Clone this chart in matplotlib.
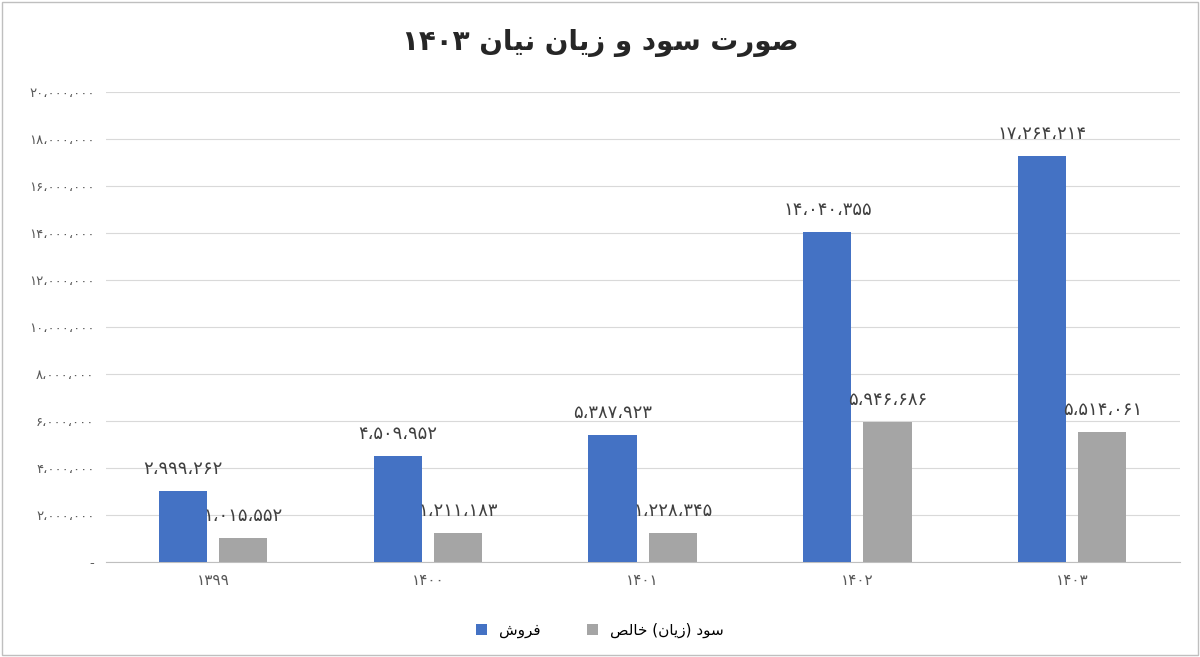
import matplotlib
matplotlib.use("Agg")
import matplotlib.pyplot as plt
import numpy as np

years = ["۱۳۹۹", "۱۴۰۰", "۱۴۰۱", "۱۴۰۲", "۱۴۰۳"]
sales = [2999262, 4509952, 5387923, 14040355, 17264214]
profit = [1015552, 1211183, 1228345, 5946686, 5514061]
title = "صورت سود و زیان نیان ۱۴۰۳"
legend_labels = ["فروش", "سود (زیان) خالص"]

FORMS = {
 'ا': (0xFE8D, 0xFE8E, None, None), 'د': (0xFEA9, 0xFEAA, None, None),
 'ر': (0xFEAD, 0xFEAE, None, None), 'ز': (0xFEAF, 0xFEB0, None, None),
 'و': (0xFEED, 0xFEEE, None, None),
 'ت': (0xFE95, 0xFE96, 0xFE97, 0xFE98), 'خ': (0xFEA5, 0xFEA6, 0xFEA7, 0xFEA8),
 'س': (0xFEB1, 0xFEB2, 0xFEB3, 0xFEB4), 'ش': (0xFEB5, 0xFEB6, 0xFEB7, 0xFEB8),
 'ص': (0xFEB9, 0xFEBA, 0xFEBB, 0xFEBC), 'ف': (0xFED1, 0xFED2, 0xFED3, 0xFED4),
 'ل': (0xFEDD, 0xFEDE, 0xFEDF, 0xFEE0), 'ن': (0xFEE5, 0xFEE6, 0xFEE7, 0xFEE8),
 'ی': (0xFBFC, 0xFBFD, 0xFBFE, 0xFBFF),
}
MIRROR = {'(': ')', ')': '('}

def shape_word(w):
    out = []
    for i, c in enumerate(w):
        if c not in FORMS:
            out.append(MIRROR.get(c, c)); continue
        f = FORMS[c]
        prev = w[i-1] if i > 0 else None
        nxt = w[i+1] if i+1 < len(w) else None
        jp = prev in FORMS and FORMS[prev][2] is not None
        jn = nxt in FORMS and f[2] is not None
        if jp and jn: cp = f[3]
        elif jp: cp = f[1]
        elif jn: cp = f[2]
        else: cp = f[0]
        out.append(chr(cp))
    return out

def rtl(s):
    words = s.split(' ')
    vis = []
    for w in reversed(words):
        if all('\u06F0' <= c <= '\u06F9' for c in w):
            vis.append(w)
        else:
            vis.append(''.join(reversed(shape_word(w))))
    return ' '.join(vis)

PD = str.maketrans("0123456789", "۰۱۲۳۴۵۶۷۸۹")
def fa(n):
    return f"{n:,}".replace(",", "،").translate(PD)

plt.rcParams['font.family'] = ['DejaVu Sans']
fig = plt.figure(figsize=(12, 6.57), dpi=100)
ax = fig.add_axes([0.088, 0.145, 0.895, 0.715])
x = np.arange(len(years))
off, w = 0.14, 0.225
b1 = ax.bar(x - off, sales, w, color="#4472C4", label=rtl(legend_labels[0]), zorder=3)
b2 = ax.bar(x + off, profit, w, color="#A5A5A5", label=rtl(legend_labels[1]), zorder=3)
for bars, vals in ((b1, sales), (b2, profit)):
    for b, v in zip(bars, vals):
        ax.text(b.get_x() + b.get_width()/2, v + 550000, fa(v), ha='center', va='bottom',
                fontsize=13, color="#404040")
ax.set_ylim(0, 20000000)
ax.set_xlim(-0.5, 4.5)
yt = np.arange(0, 20000001, 2000000)
ax.set_yticks(yt)
ax.set_yticklabels(["-"] + [fa(int(v)) for v in yt[1:]], fontsize=9.5, color="#595959")
ax.set_xticks(x)
ax.set_xticklabels(years, fontsize=11, color="#595959")
ax.grid(axis='y', color="#D9D9D9", lw=0.8, zorder=0)
for s in ['top', 'right', 'left']:
    ax.spines[s].set_visible(False)
ax.spines['bottom'].set_color("#BFBFBF")
ax.tick_params(length=0, pad=8)
fig.text(0.5, 0.935, rtl(title), ha='center', va='center', fontsize=20, fontweight='bold', color="#262626")
fig.legend(loc='center', bbox_to_anchor=(0.5, 0.04), ncol=2, frameon=False, fontsize=11,
           handlelength=0.7, handleheight=0.7, columnspacing=3)
fig.patches.append(plt.Rectangle((0.002, 0.003), 0.996, 0.994, transform=fig.transFigure,
                                 fill=False, edgecolor="#BFBFBF", lw=1))
fig.savefig("out.png", dpi=100)
